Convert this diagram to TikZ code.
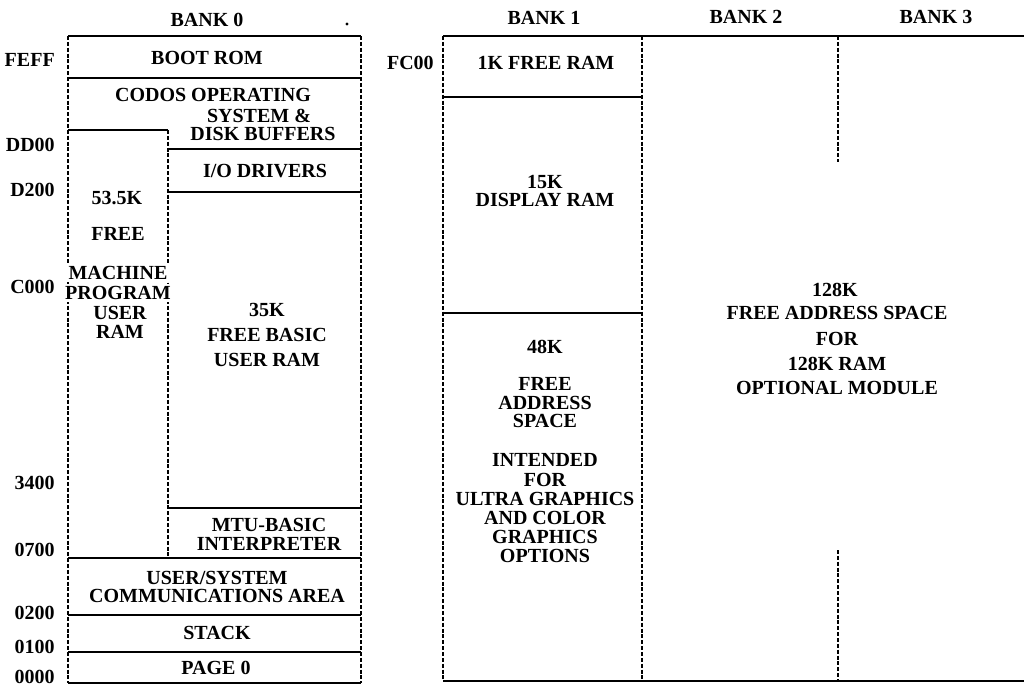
\documentclass[tikz,border=0pt]{standalone}
\usepackage{fontspec}
\setmainfont{Liberation Serif}
\begin{document}
\begin{tikzpicture}[x=0.75pt,y=-0.75pt,
  hline/.style={line width=1.7pt},
  vline/.style={line width=1.3pt, dash pattern=on 3pt off 1.4pt},
  txt/.style={font=\fontsize{15}{15}\selectfont\bfseries, inner sep=0pt, align=center},
  addr/.style={txt, anchor=east},
  mask/.style={txt, fill=white, inner sep=1.5pt}]
\useasboundingbox (0,0) rectangle (1024,686);

% ---------------- BANK 0 frame ----------------
\draw[vline] (68,36) -- (68,683);
\draw[vline] (361,36) -- (361,683);
\draw[vline] (168,130) -- (168,558);
\draw[hline] (68,36) -- (361,36);
\draw[hline] (68,78) -- (361,78);
\draw[hline] (68,130) -- (168,130);
\draw[hline] (168,149) -- (361,149);
\draw[hline] (168,192) -- (361,192);
\draw[hline] (168,508) -- (361,508);
\draw[hline] (68,558) -- (361,558);
\draw[hline] (68,615) -- (361,615);
\draw[hline] (68,652) -- (361,652);
\draw[hline] (68,683) -- (361,683);

% ---------------- BANKS 1-3 frame ----------------
\draw[vline] (443,36) -- (443,681);
\draw[vline] (642,36) -- (642,681);
\draw[vline] (838,36) -- (838,162);
\draw[vline] (838,550) -- (838,681);
\draw[hline] (443,36) -- (1024,36);
\draw[hline] (443,681) -- (1024,681);
\draw[hline] (443,97) -- (642,97);
\draw[hline] (443,313) -- (642,313);

% ---------------- titles ----------------
\node[txt] (bank0) at (207,20) {BANK 0};
\node[circle, fill, inner sep=0.9pt] (dot) at (347,24) {};
\node[txt] (bank1) at (544,18) {BANK 1};
\node[txt] (bank2) at (746,17) {BANK 2};
\node[txt] (bank3) at (936,17) {BANK 3};

% ---------------- addresses ----------------
\node[addr] (aFEFF) at (55,60) {FEFF};
\node[addr] (aDD00) at (55,145) {DD00};
\node[addr] (aD200) at (55,190) {D200};
\node[addr] (aC000) at (55,287) {C000};
\node[addr] (a3400) at (55,483) {3400};
\node[addr] (a0700) at (55,550) {0700};
\node[addr] (a0200) at (55,613) {0200};
\node[addr] (a0100) at (55,647) {0100};
\node[addr] (a0000) at (55,677) {0000};
\node[addr] (aFC00) at (434,63) {FC00};

% ---------------- bank 0 contents ----------------
\node[txt] (boot) at (207,58) {BOOT ROM};
\node[txt] (codos1) at (213,95) {CODOS OPERATING};
\node[txt] (codos2) at (259,116) {SYSTEM \&};
\node[txt] (codos3) at (263,134) {DISK BUFFERS};
\node[txt] (io) at (265,171) {I/O DRIVERS};
\node[txt] (m1) at (117,198) {53.5K};
\node[txt] (m2) at (118,234) {FREE};
\node[mask] (m3) at (118,273) {MACHINE};
\node[mask] (m4) at (118,293) {PROGRAM};
\node[txt] (m5) at (120,313) {USER};
\node[txt] (m6) at (120,332) {RAM};
\node[txt] (b1) at (267,310) {35K};
\node[txt] (b2) at (267,335) {FREE BASIC};
\node[txt] (b3) at (267,360) {USER RAM};
\node[txt] (mtu1) at (269,525) {MTU-BASIC};
\node[txt] (mtu2) at (269,544) {INTERPRETER};
\node[txt] (com1) at (217,578) {USER/SYSTEM};
\node[txt] (com2) at (217,596) {COMMUNICATIONS AREA};
\node[txt] (stack) at (217,633) {STACK};
\node[txt] (page0) at (216,668) {PAGE 0};

% ---------------- bank 1 contents ----------------
\node[txt] (k1) at (546,63) {1K FREE RAM};
\node[txt] (d1) at (545,182) {15K};
\node[txt] (d2) at (545,200) {DISPLAY RAM};
\node[txt] (f1) at (545,347) {48K};
\node[txt] (f2) at (545,384) {FREE};
\node[txt] (f3) at (545,403) {ADDRESS};
\node[txt] (f4) at (545,421) {SPACE};
\node[txt] (f5) at (545,460) {INTENDED};
\node[txt] (f6) at (545,480) {FOR};
\node[mask, inner sep=0.5pt] (f7) at (545,499) {ULTRA GRAPHICS};
\node[txt] (f8) at (545,518) {AND COLOR};
\node[txt] (f9) at (545,537) {GRAPHICS};
\node[txt] (f10) at (545,556) {OPTIONS};

% ---------------- banks 2-3 contents ----------------
\node[txt] (r1) at (835,290) {128K};
\node[txt] (r2) at (837,313) {FREE ADDRESS SPACE};
\node[txt] (r3) at (837,339) {FOR};
\node[txt] (r4) at (837,364) {128K RAM};
\node[txt] (r5) at (837,388) {OPTIONAL MODULE};
\end{tikzpicture}
\end{document}
